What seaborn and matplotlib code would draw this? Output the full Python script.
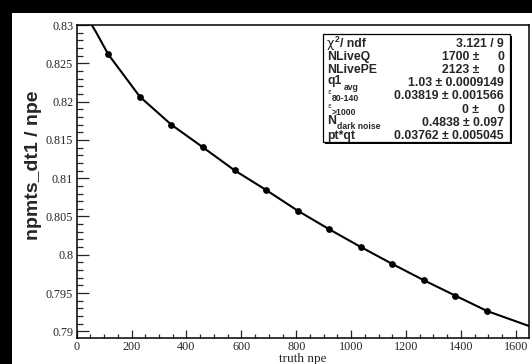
import matplotlib
matplotlib.use("Agg")
import matplotlib.pyplot as plt
import pandas as pd
import seaborn as sns
from matplotlib.patches import Rectangle
from matplotlib.ticker import MultipleLocator, FuncFormatter

# measured points
truth_npe = [115, 230, 345, 460, 575, 690, 805, 920, 1035, 1150, 1265, 1380, 1495]
ratio = [0.82617, 0.82064, 0.81698, 0.81403, 0.81103, 0.80846, 0.80576,
         0.80333, 0.80102, 0.79880, 0.79667, 0.79466, 0.79266]

# fitted curve
fit_npe = [55, 70, 115, 230, 345, 460, 575, 690, 805, 920, 1035, 1150,
           1265, 1380, 1495, 1648]
fit_ratio = [0.8300, 0.8291, 0.82617, 0.82064, 0.81698, 0.81403, 0.81103,
             0.80846, 0.80576, 0.80333, 0.80102, 0.79880, 0.79667, 0.79466,
             0.79266, 0.79070]

# fit statistics box
stat_values = ["3.121 / 9", "1700 \u00b1", "2123 \u00b1", "1.03 \u00b1 0.0009149",
               "0.03819 \u00b1 0.001566", "0 \u00b1", "0.4838 \u00b1 0.097",
               "0.03762 \u00b1 0.005045"]
stat_errors = [None, "0", "0", None, None, "0", None, None]

W, H = 532, 364
sns.set_style("ticks")
plt.rcParams["font.family"] = ["Liberation Sans", "DejaVu Sans"]

fig = plt.figure(figsize=(W / 100, H / 100), dpi=100)
fig.patch.set_facecolor("black")
fig.add_artist(Rectangle((12 / W, 0), 1 - 12 / W, 1 - 13 / H,
                         transform=fig.transFigure, facecolor="white",
                         edgecolor="none", zorder=-5))


def fx(px):
    return px / W


def fy(py):
    return 1 - py / H


ax_l, ax_r, ax_t, ax_b = 76.7, 529.0, 25.0, 337.5
ax = fig.add_axes([fx(ax_l), fy(ax_b), fx(ax_r) - fx(ax_l), fy(ax_t) - fy(ax_b)])
ax.set_facecolor("white")

pts = pd.DataFrame({"truth npe": truth_npe, "ratio": ratio})
fit = pd.DataFrame({"truth npe": fit_npe, "ratio": fit_ratio})

sns.lineplot(data=fit, x="truth npe", y="ratio", ax=ax, color="black",
             linewidth=1.5, sort=False, estimator=None)
sns.scatterplot(data=pts, x="truth npe", y="ratio", ax=ax, color="black",
                s=24, edgecolor="black", linewidth=0, zorder=3)

ax.set_xlim(0, 1648)
ax.set_ylim(0.7892, 0.83)
ax.set_xlabel("")
ax.set_ylabel("")

for side in ["left", "right", "top", "bottom"]:
    ax.spines[side].set_visible(True)
    ax.spines[side].set_linewidth(1.1)
    ax.spines[side].set_color("black")

ax.xaxis.set_major_locator(MultipleLocator(200))
ax.xaxis.set_minor_locator(MultipleLocator(50))
ax.yaxis.set_major_locator(MultipleLocator(0.005))
ax.yaxis.set_minor_locator(MultipleLocator(0.001))
ax.yaxis.set_major_formatter(FuncFormatter(lambda v, p: f"{v:g}"))
ax.xaxis.set_major_formatter(FuncFormatter(lambda v, p: f"{v:g}"))

ax.tick_params(axis="x", which="major", direction="in", length=5.8, width=0.9,
               pad=2.5, labelsize=8.7, top=False, bottom=True)
ax.tick_params(axis="x", which="minor", direction="in", length=2.9, width=0.9,
               top=False, bottom=True)
ax.tick_params(axis="y", which="major", direction="in", length=8.6, width=0.9,
               pad=2.5, labelsize=8.7, left=True, right=False)
ax.tick_params(axis="y", which="minor", direction="in", length=4.3, width=0.9,
               left=True, right=False)
for lab in ax.get_xticklabels() + ax.get_yticklabels():
    lab.set_fontfamily("Liberation Serif")

# axis titles
fig.text(fx(33.5), fy(165), "npmts_dt1 / npe", rotation=90, ha="center",
         va="center", fontsize=14, fontweight="bold", family="Liberation Sans")
fig.text(fx(303), fy(359), "truth npe", ha="center", va="center", fontsize=9.5,
         family="Liberation Serif")

# statistics box with shadow
bx_l, bx_r, bx_t, bx_b = 322.7, 509.5, 34.0, 142.5
fig.add_artist(Rectangle((fx(bx_l + 2), fy(bx_b + 2)), fx(bx_r - bx_l), fy(bx_t) - fy(bx_b),
                         transform=fig.transFigure, facecolor="black",
                         edgecolor="none", zorder=4))
fig.add_artist(Rectangle((fx(bx_l), fy(bx_b)), fx(bx_r - bx_l), fy(bx_t) - fy(bx_b),
                         transform=fig.transFigure, facecolor="white",
                         edgecolor="black", linewidth=0.9, zorder=5))

rows_y = [44.0, 57.0, 70.0, 83.2, 96.4, 109.6, 122.8, 136.0]
lx = 327.0
vx = 504.0
fs = 8.8
small = 6.2
bold = dict(fontweight="bold", family="Liberation Sans", zorder=6)

# labels
fig.text(fx(lx), fy(rows_y[0]), "\u03c7", ha="left", va="center", fontsize=fs + 0.5,
         family="DejaVu Sans", zorder=6)
fig.text(fx(334.5), fy(rows_y[0] - 4), "2", ha="left", va="center", fontsize=small, **bold)
fig.text(fx(340), fy(rows_y[0]), "/ ndf", ha="left", va="center", fontsize=fs, **bold)
fig.text(fx(lx), fy(rows_y[1]), "NLiveQ", ha="left", va="center", fontsize=fs, **bold)
fig.text(fx(lx), fy(rows_y[2]), "NLivePE", ha="left", va="center", fontsize=fs, **bold)
fig.text(fx(lx), fy(rows_y[3] - 2.5), "q1", ha="left", va="center", fontsize=fs, **bold)
fig.text(fx(343.5), fy(rows_y[3] + 4), "avg", ha="left", va="center", fontsize=small, **bold)
fig.text(fx(lx), fy(rows_y[4] - 4), "\u03b5", ha="left", va="center", fontsize=5.2,
         family="DejaVu Sans", zorder=6)
fig.text(fx(332), fy(rows_y[4] + 2.5), "80-140", ha="left", va="center", fontsize=small, **bold)
fig.text(fx(lx), fy(rows_y[5] - 4), "\u03b5", ha="left", va="center", fontsize=5.2,
         family="DejaVu Sans", zorder=6)
fig.text(fx(332), fy(rows_y[5] + 2.5), ">1000", ha="left", va="center", fontsize=small, **bold)
fig.text(fx(lx), fy(rows_y[6] - 2.0), "N", ha="left", va="center", fontsize=fs, **bold)
fig.text(fx(336.5), fy(rows_y[6] + 3.5), "dark noise", ha="left", va="center", fontsize=small, **bold)
fig.text(fx(lx), fy(rows_y[7]), "pt*qt", ha="left", va="center", fontsize=fs, **bold)

# values
for yv, val, err in zip(rows_y, stat_values, stat_errors):
    if err is None:
        fig.text(fx(vx), fy(yv), val, ha="right", va="center", fontsize=fs, **bold)
    else:
        fig.text(fx(479), fy(yv), val, ha="right", va="center", fontsize=fs, **bold)
        fig.text(fx(vx), fy(yv), err, ha="right", va="center", fontsize=fs, **bold)

fig.savefig("out.png", dpi=100, facecolor=fig.get_facecolor())
